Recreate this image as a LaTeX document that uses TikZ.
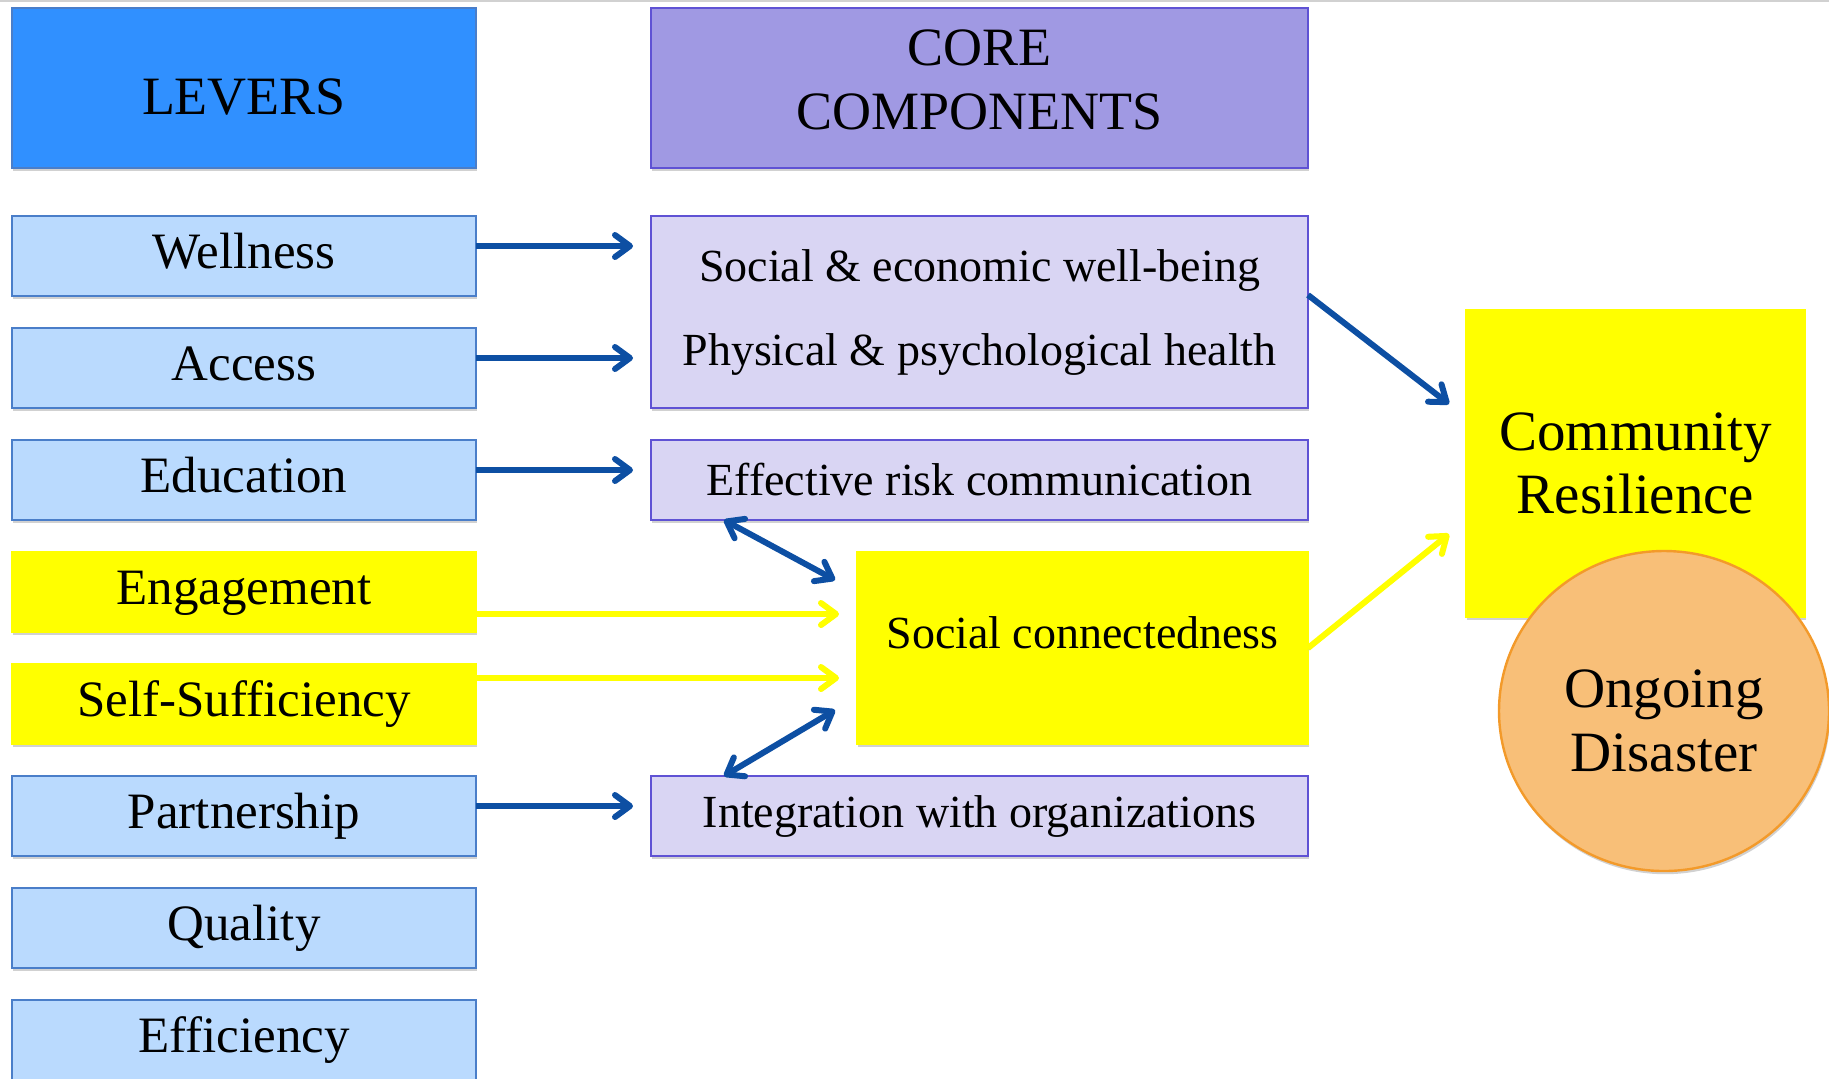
\documentclass[tikz,border=0pt]{standalone}
\usepackage{fontspec}
\setmainfont{Liberation Serif}
\usetikzlibrary{arrows.meta, positioning, shapes.geometric, shadows, calc}

\definecolor{headblue}{HTML}{3090FF}
\definecolor{leverblue}{HTML}{BADAFE}
\definecolor{leverline}{HTML}{4A7EC9}
\definecolor{corepurple}{HTML}{A099E3}
\definecolor{corelight}{HTML}{D9D5F3}
\definecolor{coreline}{HTML}{5F52D4}
\definecolor{hubyellow}{RGB}{255,255,0}
\definecolor{disfill}{HTML}{F8BF78}
\definecolor{disline}{HTML}{F39A2A}
\definecolor{arrowblue}{HTML}{0D4FA3}

\tikzset{
  Box/.style = {
    rectangle, inner sep=0pt, outer sep=0pt, line width=1.2pt,
    drop shadow={shadow xshift=0.6pt, shadow yshift=-1.6pt, fill=black!60, opacity=0.3},
  },
  LeverHead/.style = {
    Box, draw=leverline, fill=headblue,
    minimum width=232pt, minimum height=80pt,
    font=\fontsize{27}{32}\selectfont, text height=26.5pt,
  },
  Lever/.style = {
    Box, draw=leverline, fill=leverblue,
    minimum width=232pt, minimum height=40pt,
    font=\fontsize{25.5}{30}\selectfont, text height=17pt, text depth=5pt,
  },
  LeverY/.style = {Lever, draw=hubyellow, fill=hubyellow},
  CoreHead/.style = {
    Box, draw=coreline, fill=corepurple, align=center,
    minimum width=328.5pt, minimum height=80pt,
    font=\fontsize{27}{32}\selectfont, text depth=8.4pt,
  },
  Core/.style = {
    Box, draw=coreline, fill=corelight, align=center,
    minimum width=328.5pt, minimum height=40pt,
    font=\fontsize{23}{42}\selectfont,
  },
  Hub/.style = {
    Box, draw=hubyellow, fill=hubyellow,
    minimum width=225.5pt, minimum height=96pt,
    font=\fontsize{23}{28}\selectfont, text depth=15.7pt,
  },
  Resilience/.style = {
    Box, draw=hubyellow, fill=hubyellow, align=center,
    minimum width=169.5pt, minimum height=153.5pt,
    font=\fontsize{28.5}{31.5}\selectfont,
  },
  Disaster/.style = {
    ellipse, inner sep=0pt, outer sep=0pt, line width=1.2pt,
    draw=disline, fill=disfill, align=center,
    minimum width=165pt, minimum height=160pt,
    font=\fontsize{28.5}{32}\selectfont, text height=60.5pt,
    drop shadow={shadow xshift=0.6pt, shadow yshift=-1.6pt, fill=black!60, opacity=0.3},
  },
  Arrow1/.style = {
    draw=arrowblue, line width=3pt,
    -{Straight Barb[length=7.5pt, width=11pt, round]},
    preaction={draw=black!15, transform canvas={shift={(0.3pt,-1pt)}}},
  },
  Arrow2/.style = {
    draw=hubyellow, line width=3pt,
    -{Straight Barb[length=7.5pt, width=11pt, round]},
    preaction={draw=black!25, transform canvas={shift={(0.3pt,-1.1pt)}}},
  },
  Arrow3/.style = {
    Arrow1,
    {Straight Barb[length=7.5pt, width=11pt, round]}-{Straight Barb[length=7.5pt, width=11pt, round]},
  }
}

\begin{document}
\begin{tikzpicture}
  \useasboundingbox (0,0) rectangle (914.5pt,-539pt);
  \draw[black!18, line width=1pt] (0,-0.5pt) -- (914.5pt,-0.5pt);

  % levers
  \node[LeverHead] (head1) at (122pt,-44pt) {LEVERS};
  \node[Lever, below=24pt of head1] (lev1) {Wellness};
  \node[Lever, below=16pt of lev1] (lev2) {Access};
  \node[Lever, below=16pt of lev2] (lev3) {Education};
  \node[LeverY, below=16pt of lev3] (lev4) {Engagement};
  \node[LeverY, below=16pt of lev4] (lev5) {Self-Sufficiency};
  \node[Lever, below=16pt of lev5] (lev6) {Partnership};
  \node[Lever, below=16pt of lev6] (lev7) {Quality};
  \node[Lever, below=16pt of lev7] (lev8) {Efficiency};

  % core components
  \node[CoreHead, right=87.5pt of head1] (head2) {CORE\\COMPONENTS};
  \node[Core, below=24pt of head2, minimum height=96pt] (comp1)
    {Social \& economic well-being\\Physical \& psychological health};
  \node[Core, below=16pt of comp1] (comp2) {Effective risk communication};
  \node[Core] (comp3) at (lev6 -| head2) {Integration with organizations};
  \node[Hub, anchor=north east] (hub) at (lev4.north -| head2.east) {Social connectedness};

  % outcome
  \node[Resilience] (res) at (817.75pt,-231.75pt) {Community\\Resilience};
  \node[Disaster] (dis) at (832pt,-355.5pt) {Ongoing\\Disaster};

  \draw[Arrow1] ([yshift=5pt]lev1.east) -- ($(lev1.east -| comp1.west)+(-9pt,5pt)$);
  \draw[Arrow1] ([yshift=5pt]lev2.east) -- ($(lev2.east -| comp1.west)+(-9pt,5pt)$);
  \draw[Arrow1] ([yshift=5pt]lev3.east) -- ($(lev3.east -| comp2.west)+(-9pt,5pt)$);
  \draw[Arrow1] ([yshift=5pt]lev6.east) -- ($(lev6.east -| comp3.west)+(-9pt,5pt)$);
  \draw[Arrow2] ([yshift=-11pt]lev4.east) -- ($(lev4.east -| hub.west)+(-9pt,-11pt)$);
  \draw[Arrow2] ([yshift=13pt]lev5.east) -- ($(lev5.east -| hub.west)+(-9pt,13pt)$);
  \draw[Arrow3] ([xshift=36.5pt]comp2.south west) -- ([xshift=-11pt,yshift=-14pt]hub.north west);
  \draw[Arrow3] ([xshift=36.5pt]comp3.north west) -- ([xshift=-11pt,yshift=17pt]hub.south west);
  \draw[Arrow1] ([yshift=8.5pt]comp1.east) -- ([xshift=-8.5pt,yshift=29.75pt]res.west);
  \draw[Arrow2] (hub.east) -- ([xshift=-8.5pt,yshift=-35.25pt]res.west);
\end{tikzpicture}
\end{document}
